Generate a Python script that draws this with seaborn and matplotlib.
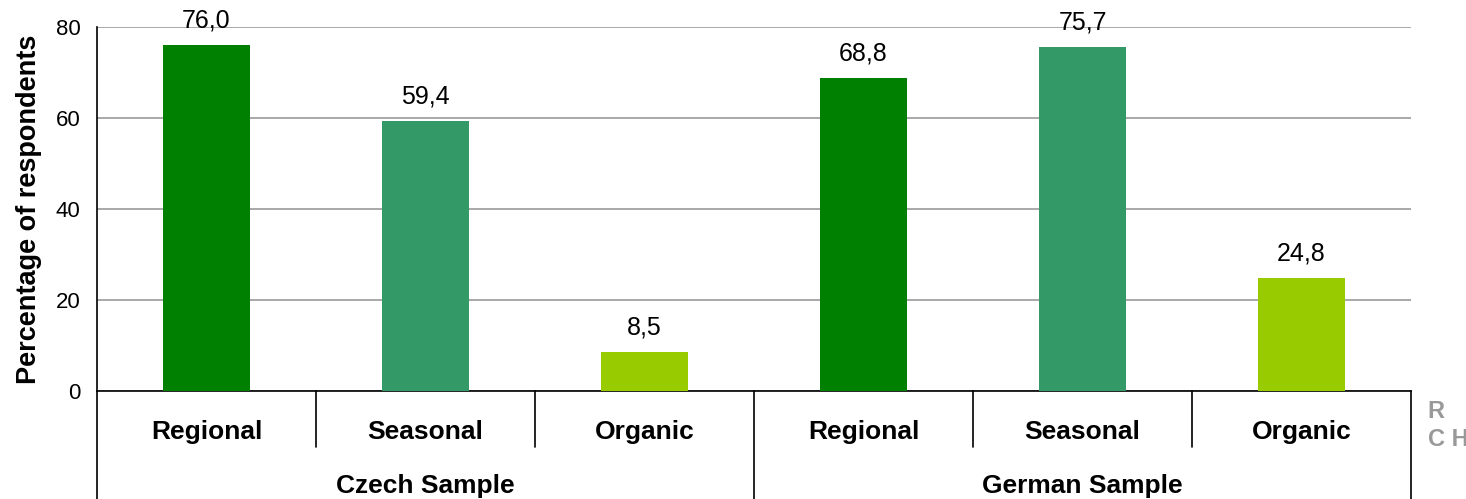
import matplotlib
matplotlib.use("Agg")
import matplotlib.pyplot as plt
import matplotlib.transforms as mtransforms
import numpy as np
import pandas as pd
import seaborn as sns

samples = ["Czech Sample", "German Sample"]
products = ["Regional", "Seasonal", "Organic"]
czech_values = [76.0, 59.4, 8.5]
german_values = [68.8, 75.7, 24.8]
product_colors = ["#008000", "#339966", "#99CC00"]
y_ticks = [0, 20, 40, 60, 80]

rows = []
for sample, vals in zip(samples, [czech_values, german_values]):
    for product, v in zip(products, vals):
        rows.append({"sample": sample, "product": product, "value": v,
                     "slot": f"{sample} {product}"})
df = pd.DataFrame(rows)

sns.set_style("white")
plt.rcParams["font.family"] = ["Liberation Sans", "DejaVu Sans"]
plt.rcParams["text.color"] = "black"
plt.rcParams["axes.labelcolor"] = "black"
plt.rcParams["ytick.color"] = "black"

fig = plt.figure(figsize=(14.66, 4.99), dpi=100)
ax = fig.add_axes([97 / 1466, (499 - 391) / 499, (1411 - 97) / 1466, 364 / 499])

sns.barplot(data=df, x="slot", y="value", hue="product", palette=product_colors,
            dodge=False, width=0.4, saturation=1, legend=False, ax=ax,
            linewidth=0, zorder=3)

ax.set_ylim(0, 80)
ax.set_xlim(-0.5, len(df) - 0.5)
ax.set_yticks(y_ticks)
ax.set_yticklabels([str(t) for t in y_ticks], fontsize=16)
ax.yaxis.grid(True, color="#999999", linewidth=1.2, zorder=0)
ax.set_axisbelow(True)
ax.tick_params(axis="y", direction="out", length=7, width=1, color="black", pad=5)
ax.tick_params(axis="x", bottom=False, labelbottom=False)
ax.set_xlabel("")
ax.set_ylabel("Percentage of respondents", fontsize=19.5, fontweight="bold", labelpad=10)

for s in ["top", "right"]:
    ax.spines[s].set_visible(False)
ax.spines["left"].set_color("black")
ax.spines["bottom"].set_color("black")
ax.spines["left"].set_linewidth(1.2)
ax.spines["bottom"].set_linewidth(1.2)

for p in ax.patches:
    h = p.get_height()
    if np.isnan(h) or h == 0:
        continue
    ax.annotate(f"{h:.1f}".replace(".", ","), (p.get_x() + p.get_width() / 2, h),
                xytext=(0, 9), textcoords="offset points", ha="center", va="bottom",
                fontsize=18)

# category table below the axis
trans = mtransforms.blended_transform_factory(ax.transData, ax.transAxes)
n = len(df)
for i in range(n + 1):
    x = i - 0.5
    bottom = -0.30 if i % 3 == 0 else -0.154
    ax.plot([x, x], [0, bottom], color="black", linewidth=1.2, transform=trans,
            clip_on=False)
for i, r in df.iterrows():
    ax.text(i, -0.113, r["product"], transform=trans, ha="center", va="center",
            fontsize=19, fontweight="bold")
for j, sample in enumerate(samples):
    ax.text(j * 3 + 1, -0.262, sample, transform=trans, ha="center", va="center",
            fontsize=19, fontweight="bold")

# cropped logo remnants at the right edge
fig.text(1427 / 1466, 1 - 412 / 499, "R", color="#999999", fontsize=17,
         fontweight="bold", va="center", ha="left")
fig.text(1428 / 1466, 1 - 440 / 499, "C H", color="#999999", fontsize=17,
         fontweight="bold", va="center", ha="left")

fig.savefig("out.png", dpi=100)
